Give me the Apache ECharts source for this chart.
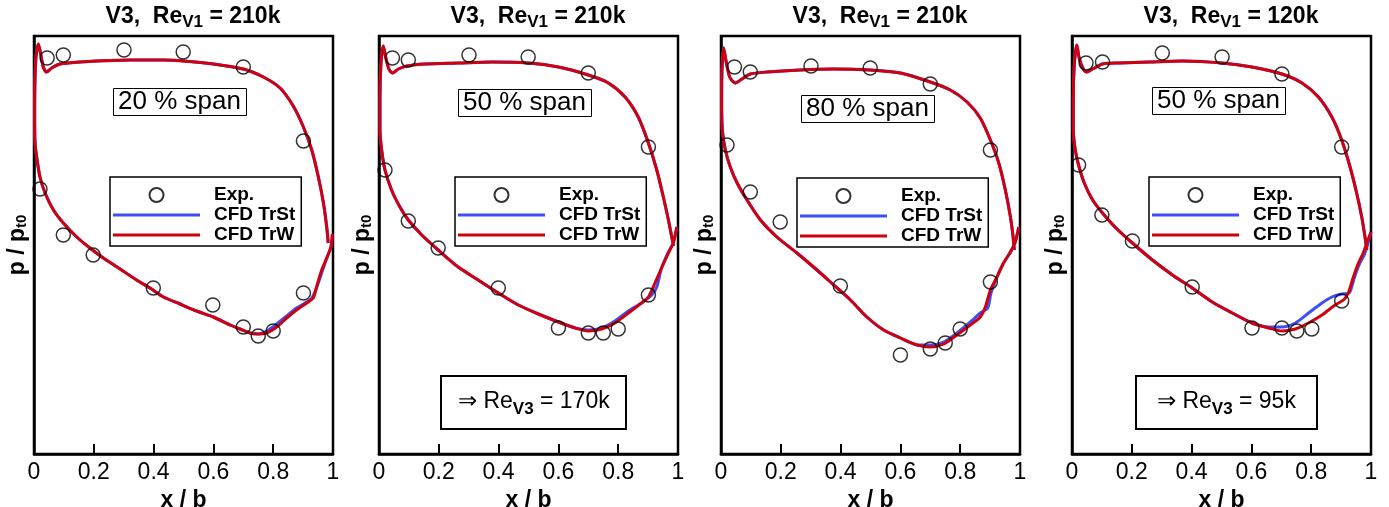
<!DOCTYPE html>
<html><head><meta charset="utf-8">
<script src="https://cdn.jsdelivr.net/npm/echarts@6/dist/echarts.min.js"></script>
<style>html,body{margin:0;padding:0;background:#fff}#c{width:1389px;height:507px}</style>
</head><body><div id="c"></div>
<script>
// ---------------- DATA (x = x/b, y = p/p_t0) ----------------
const X_TICKS = [0, 0.2, 0.4, 0.6, 0.8, 1];
const TITLES_RE = ['210k', '210k', '210k', '120k'];
const SPAN_LABELS = ['20 % span', '50 % span', '80 % span', '50 % span'];
const RE_V3 = [null, '170k', null, '95k'];
const SERIES_NAMES = ['Exp.', 'CFD TrSt', 'CFD TrW'];

// Panel 1 (20 % span)
const exp1 = [[0.044,0.978],[0.098,0.981],[0.301,0.986],[0.499,0.984],[0.700,0.969],[0.901,0.895],[0.020,0.847],[0.098,0.801],[0.198,0.781],[0.399,0.748],[0.598,0.731],[0.700,0.709],[0.750,0.700],[0.800,0.705],[0.901,0.743]];
const ps1 = [[0.0145,0.992],[0.023,0.981],[0.031,0.969],[0.042,0.964],[0.059,0.968],[0.087,0.972],[0.154,0.974],[0.210,0.975],[0.321,0.976],[0.433,0.976],[0.499,0.975],[0.600,0.972],[0.700,0.967],[0.767,0.959],[0.823,0.948],[0.867,0.930],[0.901,0.909],[0.929,0.886],[0.951,0.859],[0.968,0.833],[0.979,0.809],[0.984,0.793]];
const ssW1 = [[0.0145,0.992],[0.0067,0.979],[0.0033,0.956],[0.0022,0.923],[0.0033,0.894],[0.0089,0.879],[0.020,0.859],[0.037,0.843],[0.065,0.826],[0.098,0.813],[0.143,0.799],[0.187,0.788],[0.232,0.778],[0.288,0.767],[0.343,0.756],[0.388,0.748],[0.433,0.739],[0.488,0.732],[0.544,0.725],[0.600,0.719],[0.656,0.711],[0.689,0.707],[0.722,0.703],[0.750,0.702],[0.778,0.703],[0.812,0.709],[0.845,0.718],[0.878,0.726],[0.912,0.733],[0.934,0.738],[0.945,0.749],[0.962,0.766],[0.979,0.778],[0.993,0.789],[0.998,0.802]];
const ssTaft1 = [[0.778,0.705],[0.812,0.712],[0.845,0.720],[0.878,0.728],[0.912,0.734],[0.929,0.738],[0.945,0.748],[0.962,0.763],[0.977,0.776],[0.993,0.789],[0.998,0.802]];

// Panel 2 (50 % span, Re 210k)
const exp2 = [[0.045,0.978],[0.098,0.976],[0.301,0.981],[0.499,0.979],[0.700,0.963],[0.901,0.889],[0.020,0.866],[0.098,0.815],[0.198,0.788],[0.399,0.748],[0.600,0.708],[0.700,0.703],[0.750,0.703],[0.800,0.707],[0.901,0.741]];
const ps2 = [[0.0145,0.990],[0.023,0.978],[0.033,0.967],[0.045,0.963],[0.065,0.967],[0.093,0.970],[0.154,0.972],[0.265,0.973],[0.377,0.974],[0.499,0.973],[0.600,0.969],[0.700,0.961],[0.767,0.953],[0.823,0.939],[0.867,0.919],[0.901,0.893],[0.929,0.866],[0.951,0.839],[0.968,0.816],[0.979,0.799],[0.985,0.790]];
const ssW2 = [[0.0145,0.990],[0.0067,0.973],[0.0033,0.939],[0.0033,0.906],[0.0089,0.886],[0.020,0.866],[0.042,0.846],[0.070,0.829],[0.098,0.816],[0.143,0.801],[0.198,0.786],[0.265,0.769],[0.332,0.756],[0.399,0.743],[0.466,0.731],[0.533,0.722],[0.600,0.714],[0.656,0.708],[0.700,0.705],[0.745,0.707],[0.789,0.713],[0.834,0.723],[0.878,0.733],[0.901,0.739],[0.923,0.753],[0.945,0.768],[0.968,0.783],[0.984,0.793],[0.996,0.809]];
const ssTaft2 = [[0.700,0.706],[0.745,0.708],[0.789,0.715],[0.834,0.725],[0.878,0.733],[0.912,0.741],[0.929,0.749],[0.945,0.768],[0.968,0.784],[0.984,0.793],[0.996,0.809]];

// Panel 3 (80 % span)
const exp3 = [[0.045,0.969],[0.098,0.964],[0.301,0.970],[0.499,0.968],[0.700,0.952],[0.901,0.886],[0.020,0.891],[0.098,0.844],[0.198,0.814],[0.399,0.750],[0.600,0.681],[0.700,0.687],[0.750,0.693],[0.800,0.707],[0.901,0.754]];
const ps3 = [[0.0089,0.988],[0.018,0.973],[0.029,0.959],[0.048,0.953],[0.070,0.957],[0.098,0.962],[0.154,0.964],[0.265,0.966],[0.377,0.967],[0.499,0.966],[0.600,0.963],[0.700,0.954],[0.767,0.946],[0.823,0.934],[0.867,0.918],[0.901,0.896],[0.929,0.873],[0.951,0.846],[0.968,0.819],[0.977,0.799],[0.981,0.786]];
const ssW3 = [[0.0089,0.988],[0.0033,0.966],[0.0022,0.933],[0.0045,0.906],[0.0145,0.886],[0.031,0.869],[0.054,0.853],[0.087,0.836],[0.132,0.816],[0.187,0.799],[0.254,0.783],[0.321,0.766],[0.377,0.751],[0.433,0.736],[0.488,0.719],[0.544,0.706],[0.600,0.698],[0.656,0.691],[0.700,0.689],[0.745,0.692],[0.789,0.701],[0.834,0.711],[0.867,0.719],[0.884,0.729],[0.901,0.746],[0.923,0.759],[0.945,0.773],[0.968,0.784],[0.984,0.794],[0.996,0.809]];
const ssTaft3 = [[0.700,0.691],[0.745,0.694],[0.789,0.703],[0.834,0.714],[0.867,0.723],[0.892,0.728],[0.903,0.743],[0.923,0.759],[0.945,0.773],[0.968,0.784],[0.984,0.794],[0.996,0.809]];

// Panel 4 (50 % span, Re 120k)
const exp4 = [[0.047,0.973],[0.102,0.974],[0.302,0.983],[0.502,0.979],[0.702,0.962],[0.902,0.889],[0.022,0.871],[0.100,0.821],[0.202,0.795],[0.402,0.749],[0.602,0.708],[0.702,0.708],[0.752,0.705],[0.802,0.707],[0.902,0.735]];
const ps4 = [[0.016,0.991],[0.024,0.978],[0.036,0.968],[0.049,0.964],[0.069,0.967],[0.102,0.972],[0.158,0.973],[0.258,0.974],[0.369,0.975],[0.502,0.973],[0.602,0.969],[0.702,0.962],[0.769,0.953],[0.824,0.939],[0.869,0.919],[0.902,0.896],[0.930,0.869],[0.952,0.843],[0.969,0.819],[0.980,0.799],[0.986,0.786]];
const ssW4 = [[0.016,0.991],[0.008,0.973],[0.0044,0.939],[0.0044,0.906],[0.011,0.886],[0.022,0.871],[0.041,0.853],[0.069,0.836],[0.102,0.823],[0.147,0.808],[0.202,0.793],[0.269,0.776],[0.336,0.761],[0.402,0.748],[0.469,0.734],[0.536,0.723],[0.602,0.713],[0.658,0.708],[0.702,0.705],[0.747,0.707],[0.791,0.713],[0.836,0.721],[0.880,0.731],[0.908,0.736],[0.924,0.743],[0.941,0.759],[0.958,0.773],[0.974,0.783],[0.986,0.793],[1.0,0.804]];
const ssTaft4 = [[0.658,0.709],[0.702,0.709],[0.747,0.713],[0.791,0.723],[0.836,0.733],[0.869,0.739],[0.902,0.742],[0.927,0.743],[0.944,0.758],[0.960,0.771],[0.980,0.783],[1.0,0.804]];

const EXP = [exp1, exp2, exp3, exp4];
const PS = [ps1, ps2, ps3, ps4];
const SSW = [ssW1, ssW2, ssW3, ssW4];
const SST_AFT = [ssTaft1, ssTaft2, ssTaft3, ssTaft4];

// ---------------- LAYOUT ----------------
const FONT = '"Liberation Sans", Arial, Helvetica, sans-serif';
const GRID_LEFT = [34, 379, 721, 1072];
const GRID_TOP = 36, GRID_W = 299, GRID_H = 418;
const TITLE_X = [193, 538, 880, 1231];
const SPAN_POS = [[113, 88], [458, 89], [801, 95], [1152, 87]];
const LEGEND_POS = [[110, 177], [455, 177], [797, 178], [1149, 177]];
const RE_POS = [null, [441, 378], null, [1136, 378]];
const RE_PAD = [null, [11, 17, 12, 17], null, [11, 21, 12, 21]];
const BLUE = '#3c50f5', RED = '#d0000f';
const LINE_ICON = 'path://M0,0H87V3H0Z';

function surface(ss, ps) { return ss.slice().reverse().concat(ps.slice(1)); }
function withAft(ssW, aft) {
  const k = ssW.findIndex(p => p[0] >= aft[0][0] - 1e-9 && p[0] > 0.3);
  return ssW.slice(0, k).concat(aft);
}

const option = {
  animation: false,
  backgroundColor: '#fff',
  textStyle: { fontFamily: FONT },
  title: [], grid: [], xAxis: [], yAxis: [], legend: [], series: []
};

for (let i = 0; i < 4; i++) {
  option.grid.push({ left: GRID_LEFT[i], top: GRID_TOP, width: GRID_W, height: GRID_H,
    outerBoundsMode: 'none', containLabel: false,
    show: true, borderColor: '#000', borderWidth: 2.5, backgroundColor: 'transparent' });
  option.xAxis.push({
    gridIndex: i, type: 'value', min: X_TICKS[0], max: X_TICKS[X_TICKS.length - 1], interval: 0.2,
    axisLine: { show: true, lineStyle: { color: '#000', width: 2.5 } },
    axisTick: { show: true, inside: true, length: 10, lineStyle: { color: '#000', width: 2 } },
    axisLabel: { fontSize: 23, color: '#000', margin: 7, fontFamily: FONT },
    splitLine: { show: false },
    name: 'x / b', nameLocation: 'middle', nameGap: 29,
    nameTextStyle: { fontSize: 23, fontWeight: 'bold', color: '#000', fontFamily: FONT }
  });
  option.yAxis.push({
    gridIndex: i, type: 'value', min: 0.582, max: 1.0,
    axisLine: { show: true, lineStyle: { color: '#000', width: 2.5 } },
    axisTick: { show: false }, axisLabel: { show: false }, splitLine: { show: false },
    name: '{b|p / p}{s|t0}', nameLocation: 'middle', nameRotate: 90, nameGap: 4,
    nameTextStyle: { color: '#000', rich: {
      b: { fontSize: 23, fontWeight: 'bold', color: '#000', fontFamily: FONT, lineHeight: 24 },
      s: { fontSize: 15, fontWeight: 'bold', color: '#000', fontFamily: FONT, lineHeight: 24, padding: [8, 0, 0, 0] }
    } }
  });
  option.title.push({
    text: '{b|V3,  Re}{s|V1}{b| = ' + TITLES_RE[i] + '}',
    left: TITLE_X[i], top: 5, padding: 0, textAlign: 'center',
    textStyle: { rich: {
      b: { fontSize: 23, fontWeight: 'bold', color: '#000', fontFamily: FONT, lineHeight: 24 },
      s: { fontSize: 17, fontWeight: 'bold', color: '#000', fontFamily: FONT, lineHeight: 24, padding: [10, 0, 0, 0] }
    } }
  });
  option.title.push({
    text: SPAN_LABELS[i], left: SPAN_POS[i][0], top: SPAN_POS[i][1],
    padding: [1, 6, 1, 5], borderColor: '#000', borderWidth: 1,
    textStyle: { fontSize: 26, fontWeight: 'normal', color: '#000', fontFamily: FONT, lineHeight: 26 }
  });
  if (RE_V3[i]) {
    option.title.push({
      text: '{r|\u21D2 Re}{s|V3}{r| = ' + RE_V3[i] + '}',
      left: RE_POS[i][0], top: RE_POS[i][1],
      padding: RE_PAD[i], borderColor: '#000', borderWidth: 2,
      textStyle: { fontWeight: 'normal', rich: {
        r: { fontSize: 23, fontWeight: 'normal', color: '#000', fontFamily: FONT, lineHeight: 26 },
        s: { fontSize: 17, fontWeight: 'bold', color: '#000', fontFamily: FONT, lineHeight: 26, padding: [14, 0, 0, 0] }
      } }
    });
  }
  option.legend.push({
    left: LEGEND_POS[i][0], top: LEGEND_POS[i][1], orient: 'vertical',
    itemWidth: 87, itemHeight: 14, itemGap: 0, padding: [8, 6, 1, 3],
    borderColor: '#000', borderWidth: 1.5, backgroundColor: '#fff', selectedMode: false,
    textStyle: { fontSize: 19, fontWeight: 'bold', color: '#000', fontFamily: FONT, lineHeight: 20, padding: [0, 0, 0, 9] },
    data: [
      { name: SERIES_NAMES[0], icon: 'circle' },
      { name: SERIES_NAMES[1], icon: LINE_ICON },
      { name: SERIES_NAMES[2], icon: LINE_ICON }
    ]
  });
  option.series.push({
    name: 'CFD TrSt', type: 'line', xAxisIndex: i, yAxisIndex: i,
    data: surface(withAft(SSW[i], SST_AFT[i]), PS[i]),
    symbol: 'none', smooth: 0.25, z: 2,
    lineStyle: { color: BLUE, width: 3 }, itemStyle: { color: BLUE }
  });
  option.series.push({
    name: 'CFD TrW', type: 'line', xAxisIndex: i, yAxisIndex: i,
    data: surface(SSW[i], PS[i]),
    symbol: 'none', smooth: 0.25, z: 3,
    lineStyle: { color: RED, width: 3 }, itemStyle: { color: RED }
  });
  option.series.push({
    name: 'Exp.', type: 'scatter', xAxisIndex: i, yAxisIndex: i,
    data: EXP[i], symbol: 'circle', symbolSize: 14, z: 4,
    itemStyle: { color: 'rgba(255,255,255,0)', borderColor: '#000', borderWidth: 1.5 }
  });
}

const chart = echarts.init(document.getElementById('c'), null, { renderer: 'canvas' });
chart.setOption(option);
</script>
</body></html>
